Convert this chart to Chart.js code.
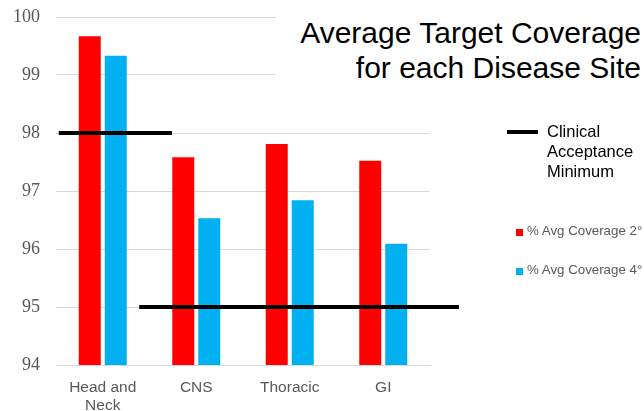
<!DOCTYPE html>
<html>
<head>
<meta charset="utf-8">
<script src="https://cdn.jsdelivr.net/npm/chart.js@4.4.1/dist/chart.umd.min.js"></script>
<style>
  html, body { margin: 0; padding: 0; background: #fff; }
  #wrap { position: relative; width: 644px; height: 411px; font-family: "Liberation Sans", Arial, sans-serif; }
  #title {
    position: absolute; left: 276px; right: 3px; top: 0; height: 118px;
    background: #fff; text-align: right; font-size: 30px; line-height: 35px;
    padding-top: 15px; box-sizing: border-box; color: #000;
  }
  .leg { position: absolute; }
  #legLine { left: 507px; top: 130px; width: 31px; height: 4px; background: #000; }
  #legLineText { left: 547px; top: 121px; font-size: 16.5px; line-height: 20px; color: #000; }
  .sq { position: absolute; width: 7px; height: 7px; }
  .legText { font-size: 13.3px; color: #595959; white-space: nowrap; }
</style>
</head>
<body>
<div id="wrap">
  <canvas id="chart" width="644" height="411"></canvas>
  <div id="title">Average Target Coverage<br>for each Disease Site</div>
  <div class="leg" id="legLine"></div>
  <div class="leg" id="legLineText">Clinical<br>Acceptance<br>Minimum</div>
  <div class="sq" style="left:516px;top:229px;background:#ff0000"></div>
  <div class="leg legText" style="left:527px;top:223px">% Avg Coverage 2°</div>
  <div class="sq" style="left:516px;top:268px;background:#00b0f0"></div>
  <div class="leg legText" style="left:527px;top:262px">% Avg Coverage 4°</div>
</div>
<script>
// values
const categories = [["Head and", "Neck"], "CNS", "Thoracic", "GI"];
const coverage2 = [99.67, 97.58, 97.81, 97.52];
const coverage4 = [99.33, 96.53, 96.84, 96.09];
const yTicks = [94, 95, 96, 97, 98, 99, 100];

// clinical minimum lines: level and extent in category index units
const minimumLevels = [98, 95];
const minimumFrom = [-0.47, 0.39];
const minimumTo = [0.74, 3.81];

// parsing off so the fractional indexes go straight to the category scale
const minimumSets = minimumLevels.map((lvl, i) => ({
    type: "line",
    label: "Clinical Acceptance Minimum",
    parsing: false,
    data: [{ x: minimumFrom[i], y: lvl }, { x: minimumTo[i], y: lvl }],
    borderColor: "#000",
    borderWidth: 4,
    pointRadius: 0,
    clip: false,
    order: 0,
}));

new Chart(document.getElementById("chart"), {
    type: "bar",
    data: {
        labels: categories,
        datasets: [
            {
                label: "% Avg Coverage 2°",
                data: coverage2,
                backgroundColor: "#ff0000",
                categoryPercentage: 0.556,
                barPercentage: 0.846,
                order: 1,
            },
            {
                label: "% Avg Coverage 4°",
                data: coverage4,
                backgroundColor: "#00b0f0",
                categoryPercentage: 0.556,
                barPercentage: 0.846,
                order: 1,
            },
            ...minimumSets,
        ],
    },
    options: {
        responsive: false,
        animation: false,
        layout: { padding: { top: 17, right: 214, bottom: 0, left: 0 } },
        plugins: { legend: { display: false }, tooltip: { enabled: false } },
        scales: {
            x: {
                grid: { display: false },
                border: { color: "#d9d9d9" },
                ticks: {
                    color: "#595959",
                    font: { family: "Liberation Sans", size: 15.5 },
                    padding: 5,
                    maxRotation: 0,
                },
                afterFit: (s) => { s.height = 46; },
            },
            y: {
                min: 94,
                max: 100,
                afterBuildTicks: (s) => { s.ticks = yTicks.map((v) => ({ value: v })); },
                grid: { color: "#d9d9d9", drawTicks: false },
                border: { display: false },
                ticks: {
                    color: "#595959",
                    font: { family: "Liberation Serif", size: 18 },
                    padding: 16,
                },
                afterFit: (s) => { s.width = 56; s.paddingTop = 0; s.paddingBottom = 0; },
            },
        },
    },
});
</script>
</body>
</html>
